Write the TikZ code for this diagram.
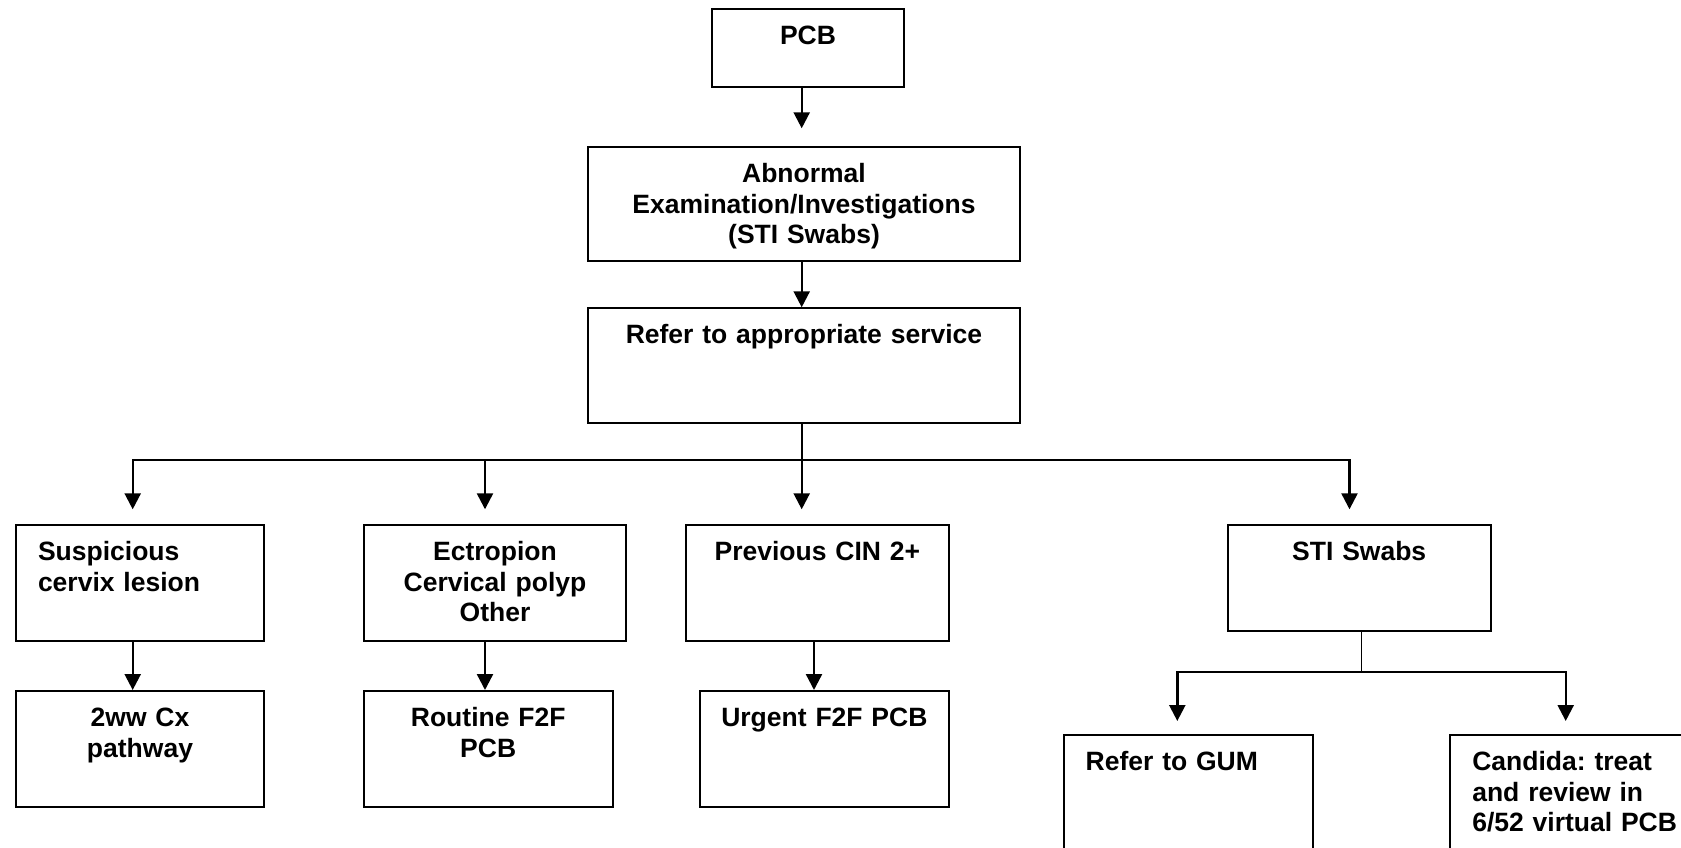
\documentclass[tikz,border=0pt]{standalone}
\usepackage{fontspec}
\setmainfont{Liberation Sans}
\usetikzlibrary{arrows.meta}
\tikzset{box/.style={draw, line width=2pt, anchor=north west, inner xsep=10pt, inner ysep=0pt,
                     text height=35.5pt, font=\bfseries\fontsize{26.5}{30.6}\selectfont\frenchspacing},
         lbox/.style={box, inner xsep=22pt, align=left},
         arr/.style={line width=2.4pt, -{Triangle[width=16pt,length=16pt]}},
         link/.style={line width=1.5pt}}

\begin{document}
\begin{tikzpicture}[x=1pt,y=-1pt]
   \clip (0,0) rectangle (1681,848);
   % top row
   \node[box, minimum width=192.6pt, text width=172pt, align=center, text depth=42.7pt] (pcb) at (710.7,8.3) {PCB};
   \node[box, minimum width=432.6pt, text width=412pt, align=center, text depth=78.3pt] (abn) at (586.7,146)
        {Abnormal\\Examination/Investigations\\(STI Swabs)};
   \node[box, minimum width=432.6pt, text width=412pt, align=center, text depth=79.4pt] (refer) at (586.7,307.3)
        {Refer to appropriate service};
   % middle row
   \node[lbox, minimum width=248.6pt, text width=204pt, text depth=80.7pt] (susp) at (14.7,524)
        {Suspicious\\cervix lesion};
   \node[box, minimum width=262.6pt, text width=242pt, align=center, text depth=80.7pt] (ectr) at (362.7,524)
        {Ectropion\\Cervical polyp\\Other};
   \node[box, minimum width=262.7pt, text width=242pt, align=center, text depth=80.7pt] (prev) at (685,524)
        {Previous CIN 2+};
   \node[box, minimum width=263pt, text width=243pt, align=center, text depth=70.7pt] (sti) at (1226.7,524)
        {STI Swabs};
   % bottom row
   \node[box, minimum width=248.6pt, text width=228pt, align=center, text depth=80.5pt] (cx) at (14.7,690)
        {2ww Cx\\pathway};
   \node[box, minimum width=249pt, text width=229pt, align=center, text depth=80.5pt] (routine) at (362.7,690)
        {Routine F2F\\PCB};
   \node[box, minimum width=248.7pt, text width=228pt, align=center, text depth=80.5pt] (urgent) at (699,690)
        {Urgent F2F PCB};
   \node[lbox, minimum width=249pt, text width=205pt, text depth=100pt] (gum) at (1062.7,734)
        {Refer to GUM};
   \node[lbox, minimum width=249pt, text width=207pt, text depth=100pt] (cand) at (1449.3,734)
        {Candida: treat\\and review in\\6/52 virtual PCB};

   \coordinate (split) at (801.7,460);
   \coordinate (d1) at (132.7,460);
   \coordinate (d2) at (485,460);
   \coordinate (d4) at (1349.5,460);
   \coordinate (stisplit) at (1361.7,671.7);
   \coordinate (g1) at (1177.3,671.7);
   \coordinate (g2) at (1565.7,671.7);

   \draw[arr, shorten >=17.7pt] (split |- pcb.south) -- (split |- abn.north);
   \draw[arr] (split |- abn.south) -- (split |- refer.north);
   \draw[link, line width=2pt] (split |- refer.south) -- (split);
   \foreach \d/\n in {d1/susp, d2/ectr, split/prev, d4/sti}
     \draw[arr, shorten >=14.7pt] (split) -| (\d |- \n.north);
   \draw[arr] (d1 |- susp.south) -- (d1 |- cx.north);
   \draw[arr] (d2 |- ectr.south) -- (d2 |- routine.north);
   \draw[arr] (814,640) -- (814,690);
   \draw[link] (stisplit |- sti.south) -- (stisplit);
   \foreach \g/\n in {g1/gum, g2/cand}
     \draw[arr, shorten >=13pt] (stisplit) -| (\g |- \n.north);
\end{tikzpicture}
\end{document}
